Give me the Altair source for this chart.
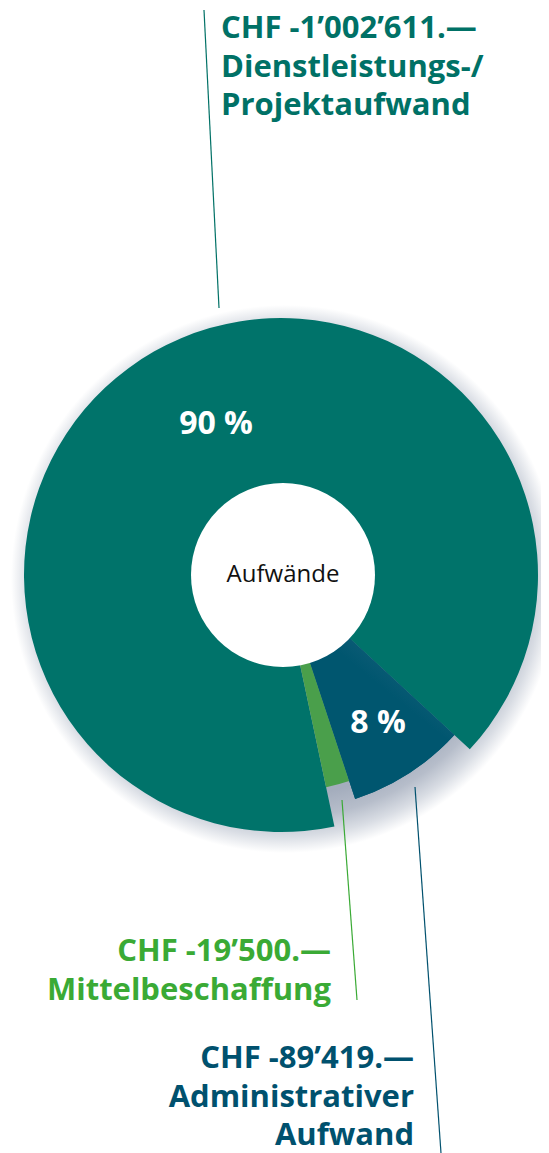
import math
import altair as alt
import pandas as pd

# ---------------- data ----------------
categories = ["Dienstleistungs-/Projektaufwand", "Administrativer Aufwand", "Mittelbeschaffung"]
amounts = [1002611, 89419, 19500]
amount_labels = ["CHF -1’002’611.—", "CHF -89’419.—", "CHF -19’500.—"]
name_labels = ["Dienstleistungs-/\nProjektaufwand", "Administrativer\nAufwand", "Mittelbeschaffung"]
percent_labels = ["90 %", "8 %", ""]
center_label = "Aufwände"

# ---------------- styles / layout ----------------
slice_colors = ["#00736a", "#00566f", "#4a9f4b"]
text_colors = ["#007166", "#00516e", "#3aaa35"]
outer_radius = [257, 236, 217]
inner_radius = 92
W, H = 533, 1145
CX, CY = 273, 567
start_angle = math.radians(168)
LABEL_FS = 31
LINE_H = 38.5

# label anchors (chart pixel coordinates)
label_x = [213, 406, 323]
label_y = [30, 1060, 953]
label_align = ["left", "right", "right"]
pct_x = [208, 370, 0]
pct_y = [416, 715, 0]
# leader lines
line_x = [211, 407, 334]
line_y = [300, 779, 792]
line_x2 = [196, 433, 349]
line_y2 = [2, 1145, 992]

df = pd.DataFrame({
    "cat": categories,
    "amount": amounts,
    "ord": list(range(len(categories))),
    "r": outer_radius,
})
total = sum(amounts)
theta_scale = alt.Scale(domain=[0, total], range=[start_angle, start_angle + 2 * math.pi])

one = pd.DataFrame({"a": [0]})

shadow = alt.Chart(one).mark_arc(
    theta=0, theta2=2 * math.pi, radius=274,
    fill={
        "gradient": "radial",
        "x1": 0.5, "y1": 0.5, "r1": 0,
        "x2": 0.5, "y2": 0.5, "r2": 0.5,
        "stops": [
            {"offset": 0, "color": "#a4adbd"},
            {"offset": 0.79, "color": "#a4adbd"},
            {"offset": 0.87, "color": "#b6bdca"},
            {"offset": 0.94, "color": "#d9dde4"},
            {"offset": 1, "color": "#ffffff"},
        ],
    },
).encode(x=alt.value(CX + 4), y=alt.value(CY + 4))

base = alt.Chart(df).transform_stack(
    stack="amount", groupby=[], as_=["t0", "t1"], sort=[alt.SortField("ord")]
)

slices = base.mark_arc(stroke=None).encode(
    theta=alt.Theta("t0:Q", scale=theta_scale),
    theta2="t1:Q",
    radius=alt.Radius("r:Q", scale=None),
    color=alt.Color("cat:N", scale=alt.Scale(domain=categories, range=slice_colors), legend=None),
    x=alt.value(CX), y=alt.value(CY),
)

blue_grad = base.transform_filter(alt.datum.ord == 1).mark_arc(
    fill={
        "gradient": "linear",
        "x1": 0.75, "y1": 0.05, "x2": 0.5, "y2": 0.45,
        "stops": [
            {"offset": 0, "color": "#2f6c88"},
            {"offset": 1, "color": "#00566f"},
        ],
    },
).encode(
    theta=alt.Theta("t0:Q", scale=theta_scale),
    theta2="t1:Q",
    radius=alt.Radius("r:Q", scale=None),
    x=alt.value(CX), y=alt.value(CY),
)

hole = alt.Chart(one).mark_arc(
    theta=0, theta2=2 * math.pi, radius=inner_radius, fill="#ffffff"
).encode(x=alt.value(CX + 2), y=alt.value(CY))

center = alt.Chart(pd.DataFrame({"t": [center_label]})).mark_text(
    font="Open Sans", fontSize=24, color="#111111", align="center", baseline="middle"
).encode(text="t:N", x=alt.value(CX + 2), y=alt.value(CY))

pct_df = pd.DataFrame({"t": percent_labels, "x": pct_x, "y": pct_y})
pct = alt.Chart(pct_df).transform_filter(alt.datum.t != "").mark_text(
    font="Open Sans", fontWeight="bold", fontSize=32, color="#ffffff",
    align="center", baseline="middle",
).encode(
    text="t:N",
    x=alt.X("x:Q", scale=None, axis=None),
    y=alt.Y("y:Q", scale=None, axis=None),
)

lines_df = pd.DataFrame({
    "cat": categories, "x": line_x, "y": line_y, "x2": line_x2, "y2": line_y2,
})
lines = alt.Chart(lines_df).mark_rule(strokeWidth=1.2).encode(
    x=alt.X("x:Q", scale=None, axis=None),
    y=alt.Y("y:Q", scale=None, axis=None),
    x2="x2:Q", y2="y2:Q",
    color=alt.Color("cat:N", scale=alt.Scale(domain=categories, range=text_colors), legend=None),
)

label_layers = []
for i in range(len(categories)):
    ldf = pd.DataFrame({
        "t": [amount_labels[i] + "\n" + name_labels[i]],
        "x": [label_x[i]], "y": [label_y[i]],
    })
    label_layers.append(
        alt.Chart(ldf).mark_text(
            font="Open Sans", fontWeight="bold", fontSize=LABEL_FS, color=text_colors[i],
            align=label_align[i], baseline="alphabetic", lineBreak="\n", lineHeight=LINE_H,
        ).encode(
            text="t:N",
            x=alt.X("x:Q", scale=None, axis=None),
            y=alt.Y("y:Q", scale=None, axis=None),
        )
    )

chart = alt.layer(
    shadow, slices, blue_grad, hole, center, pct, lines, *label_layers
).properties(
    width=W, height=H, padding=0, autosize="none"
).resolve_scale(color="independent").configure_view(stroke=None)

chart.save("out.html", embed_options={"renderer": "svg", "actions": False})
